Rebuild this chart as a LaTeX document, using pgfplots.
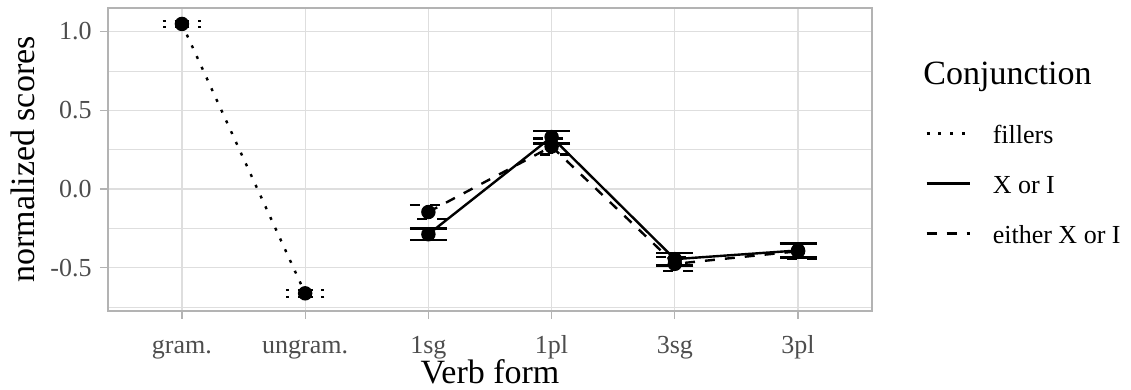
\documentclass[border=0pt]{standalone}
\usepackage{fontspec}
\setmainfont{Liberation Serif}
\usepackage{pgfplots}
\pgfplotsset{compat=1.18}
\definecolor{tickgrey}{HTML}{4D4D4D}
\definecolor{bordergrey}{HTML}{B3B3B3}
\definecolor{gridgrey}{HTML}{DEDEDE}
\begin{document}
\begin{tikzpicture}
\path[use as bounding box] (-54pt,-39.6pt) rectangle (511.5pt,155.4pt);
\begin{axis}[
  at={(0,0)}, anchor=south west,
  scale only axis, width=382pt, height=151.3pt,
  xmin=-0.6, xmax=5.6, ymin=-0.773, ymax=1.148,
  xtick={0,1,2,3,4,5}, xticklabels={gram.,ungram.,1sg,1pl,3sg,3pl},
  ytick={-0.5,0,0.5,1}, yticklabels={-0.5,0.0,0.5,1.0},
  minor ytick={-0.75,-0.25,0.25,0.75},
  grid=both,
  major grid style={gridgrey, line width=0.6pt},
  minor grid style={gridgrey, line width=0.35pt},
  minor tick length=0pt,
  tick pos=left,
  tick align=outside, major tick length=4pt,
  tick style={bordergrey, line width=0.6pt},
  axis line style={bordergrey, line width=0.9pt},
  ticklabel style={font=\fontsize{13}{15}\selectfont, text=tickgrey},
  yticklabel style={anchor=east, inner sep=0pt, xshift=-4pt},
  xticklabel style={anchor=base, inner sep=0pt, yshift=-17.6pt},
  xlabel={Verb form}, ylabel={normalized scores},
  every axis x label/.style={at={([yshift=-36.6pt]axis description cs:0.5,0)}, anchor=base, font=\fontsize{17}{20}\selectfont, inner sep=0pt},
  every axis y label/.style={at={([xshift=-36.5pt]axis description cs:0,0.5)}, rotate=90, anchor=base, font=\fontsize{17}{20}\selectfont, inner sep=0pt},
  legend image code/.code={\draw[#1] (0pt,0pt) -- (21.5pt,0pt);},
  legend style={draw=none, fill=none, at={(1,0)}, anchor=north west,
    xshift=26.5pt, yshift=94.85pt, inner sep=0pt, row sep=13pt, column sep=11pt,
    nodes={inner sep=0pt, text height=11pt, text depth=1pt, font=\fontsize{13}{15}\selectfont},
    cells={anchor=west}},
]
% fillers
\addplot[black, line width=1.2pt, dash pattern=on 1.5pt off 4.4pt,
  mark=*, mark size=3pt, mark options={solid},
  error bars/.cd, y dir=both, y explicit,
  error bar style={line width=1.2pt, dash pattern=on 1.5pt off 4.4pt},
  error mark options={rotate=90, mark size=9.6pt, line width=1.2pt, dash pattern=on 1.5pt off 4.4pt}]
  coordinates {(0,1.048) +- (0,0.02) (1,-0.662) +- (0,0.022)};
% X or I
\addplot[black, line width=1.2pt, solid,
  mark=*, mark size=3pt, mark options={solid},
  error bars/.cd, y dir=both, y explicit,
  error bar style={line width=1.2pt, solid},
  error mark options={rotate=90, mark size=9.25pt, line width=1.2pt, solid}]
  coordinates {(2,-0.287) +- (0,0.037) (3,0.33) +- (0,0.04) (4,-0.445) +- (0,0.04) (5,-0.39) +- (0,0.045)};
% either X or I
\addplot[black, line width=1.2pt, dash pattern=on 5pt off 5pt,
  mark=*, mark size=3pt, mark options={solid},
  error bars/.cd, y dir=both, y explicit,
  error bar style={line width=1.2pt, dash pattern=on 5pt off 5pt},
  error mark options={rotate=90, mark size=9.25pt, line width=1.2pt, dash pattern=on 5pt off 5pt}]
  coordinates {(2,-0.146) +- (0,0.044) (3,0.27) +- (0,0.05) (4,-0.475) +- (0,0.045) (5,-0.395) +- (0,0.045)};
\addlegendimage{black, line width=1.2pt, dash pattern=on 1.5pt off 5pt}
\addlegendentry{fillers}
\addlegendimage{black, line width=1.2pt, solid}
\addlegendentry{X or I}
\addlegendimage{black, line width=1.2pt, dash pattern=on 6pt off 6pt}
\addlegendentry{either X or I}
\end{axis}
\node[anchor=base west, inner sep=0pt, font=\fontsize{17}{20}\selectfont] at (407.5pt,113.35pt) {Conjunction};
\end{tikzpicture}
\end{document}
